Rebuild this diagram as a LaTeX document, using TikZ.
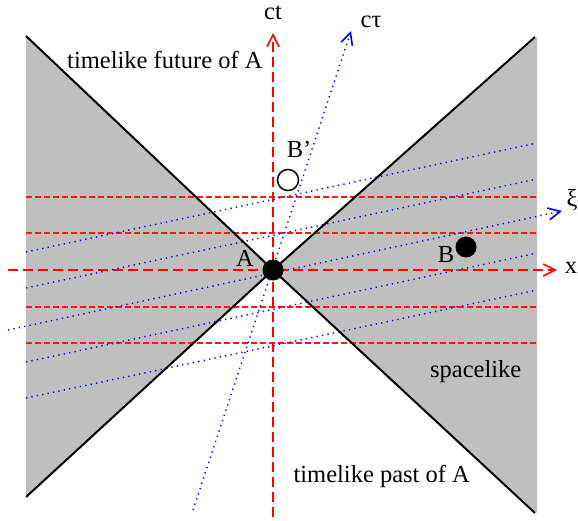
\documentclass[tikz,border=0pt]{standalone}
\usepackage{fontspec}
\setmainfont{Liberation Serif}
\usetikzlibrary{arrows.meta}
\definecolor{simred}{RGB}{255,20,20}
\begin{document}
\begin{tikzpicture}[x=1pt,y=-1pt,
  lbl/.style={font=\fontsize{24.5}{28}\selectfont, inner sep=0pt, anchor=base},
  barb/.style={-{Straight Barb[length=12pt,width=12pt,line width=1.6pt]}},
  axisred/.style={draw=red, line width=2pt, dash pattern=on 10pt off 5pt, barb},
  simline/.style={draw=simred, line width=1.1pt, dash pattern=on 6pt off 3pt},
  bluedot/.style={draw=blue, line width=1.4pt, dash pattern=on 1.3pt off 4.2pt},
  axisblue/.style={bluedot, barb},
  cone/.style={draw=black, line width=2pt},
  region/.style={fill=gray!50},
  event/.style={circle, minimum size=21pt, inner sep=0pt, line width=1.5pt},
]
\useasboundingbox (0,0) rectangle (578,520);
% key points
\coordinate (O) at (273,270);
\coordinate (ul) at (26,36);
\coordinate (ll) at (26,497);
\coordinate (ur) at (535,37);
\coordinate (lr) at (535,513);
% spacelike regions
\fill[region] (ul) -- (O) -- (ll) -- cycle;
\fill[region] (537,37) -- (O) -- (537,513) -- cycle;
% red simultaneity lines
\coordinate (r1a) at (26,197); \coordinate (r1b) at (537,197);
\coordinate (r2a) at (26,233); \coordinate (r2b) at (537,233);
\coordinate (r3a) at (26,307); \coordinate (r3b) at (537,307);
\coordinate (r4a) at (26,343); \coordinate (r4b) at (537,343);
\draw[simline] (r1a) -- (r1b);
\draw[simline] (r2a) -- (r2b);
\draw[simline] (r3a) -- (r3b);
\draw[simline] (r4a) -- (r4b);
% blue simultaneity lines
\coordinate (b1a) at (26,252); \coordinate (b1b) at (537,143);
\coordinate (b2a) at (26,288); \coordinate (b2b) at (537,179);
\coordinate (b3a) at (26,362); \coordinate (b3b) at (537,253);
\coordinate (b4a) at (26,398); \coordinate (b4b) at (537,290);
\draw[bluedot] (b1a) -- (b1b);
\draw[bluedot] (b2a) -- (b2b);
\draw[bluedot] (b3a) -- (b3b);
\draw[bluedot] (b4a) -- (b4b);
% light cone
\draw[cone] (ul) -- (O) -- (lr);
\draw[cone] (ll) -- (O) -- (ur);
% axes
\coordinate (xs) at (8,270);
\coordinate (xe) at (557,270);
\coordinate (ts) at (273,517);
\coordinate (te) at (273,33);
\coordinate (taus) at (193,510);
\coordinate (taue) at (351,31);
\coordinate (xis) at (8,330);
\coordinate (xie) at (562,211);
\draw[axisblue] (taus) -- (taue);
\draw[axisblue] (xis) -- (xie);
\draw[axisred] (xs) -- (xe);
\draw[axisred] (ts) -- (te);
% events
\node[event, fill=black] (A) at (O) {};
\node[event, fill=black] (B) at (466,247) {};
\node[event, draw=black, fill=white] (Bp) at (288,180) {};
% labels
\node[lbl] (lA) at (245,266) {A};
\node[lbl] (lB) at (446,262) {B};
\node[lbl] (lBp) at (299,157) {B’};
\node[lbl] (lct) at (273,19) {ct};
\node[lbl] (lctau) at (371,27) {cτ};
\node[lbl] (lx) at (571,273) {x};
\node[lbl, anchor=center] (lxi) at (572,200) {ξ};
\node[lbl, anchor=base west] (lfut) at (67,68) {timelike future of A};
\node[lbl, anchor=base east] (lpast) at (470,482) {timelike past of A};
\node[lbl, anchor=base west] (lspace) at (430,377) {spacelike};
\end{tikzpicture}
\end{document}
